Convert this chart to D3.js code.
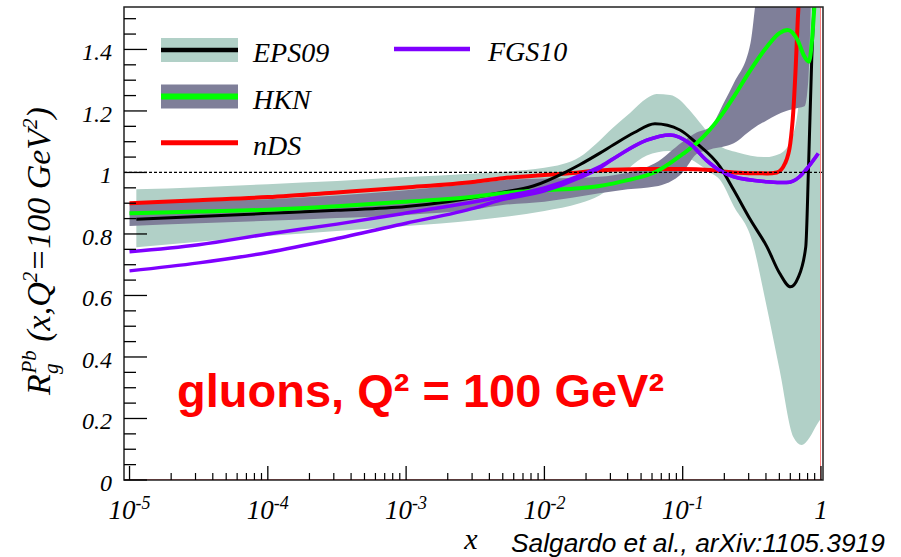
<!DOCTYPE html>
<html>
<head>
<meta charset="utf-8">
<script src="https://cdn.jsdelivr.net/npm/d3@7/dist/d3.min.js"></script>
<style>
  body { margin: 0; background: #fff; }
  svg { display: block; }
  .serif { font-family: "Liberation Serif", "Times New Roman", serif; font-style: italic; }
</style>
</head>
<body>
<svg id="chart" width="901" height="557"></svg>
<script>
// ---- data: [x, R_g^Pb] ----
const eps09 = [[1.12e-5,0.848],[3.16e-5,0.857],[1e-4,0.867],[3.16e-4,0.877],[1e-3,0.889],[2e-3,0.905],
  [4.8e-3,0.934],[8.3e-3,0.956],[0.0145,1.003],[0.018,1.025],[0.025,1.062],[0.0316,1.09],[0.0447,1.13],
  [0.063,1.158],[0.0955,1.138],[0.126,1.095],[0.186,1.019],[0.234,0.943],[0.309,0.846],[0.407,0.758],
  [0.501,0.673],[0.603,0.628],[0.682,0.657],[0.776,0.758],[0.813,1.02],[0.857,1.366],[0.90,1.6]];
const eps09Up = [[1.12e-5,0.945],[3.16e-5,0.952],[1e-4,0.962],[3.16e-4,0.972],[1e-3,0.985],[3.16e-3,0.997],
  [0.01,1.015],[0.018,1.05],[0.0239,1.095],[0.0313,1.145],[0.0416,1.193],[0.055,1.241],[0.0646,1.255],
  [0.081,1.252],[0.0955,1.236],[0.112,1.203],[0.14,1.15],[0.18,1.09],[0.25,1.065],[0.4,1.05],[0.5,1.06],
  [0.6,1.1],[0.68,1.2],[0.76,1.45],[0.83,1.6],[1.0,1.6]];
const eps09Lo = [[1.12e-5,0.757],[3.16e-5,0.775],[1e-4,0.793],[3.16e-4,0.81],[1e-3,0.826],[3.16e-3,0.845],
  [0.01,0.875],[0.018,0.9],[0.025,0.925],[0.0316,0.96],[0.04,1.01],[0.055,1.055],[0.079,1.07],[0.112,1.045],
  [0.158,1.0],[0.186,0.976],[0.234,0.89],[0.316,0.78],[0.398,0.58],[0.501,0.36],[0.631,0.14],[0.724,0.114],
  [0.832,0.14],[0.933,0.18],[1.0,0.2]];

const hkn = [[1e-5,0.867],[3.16e-5,0.873],[1e-4,0.879],[3.16e-4,0.89],[1e-3,0.905],[3.16e-3,0.922],
  [4.8e-3,0.932],[0.01,0.942],[0.018,0.949],[0.025,0.956],[0.04,0.975],[0.0646,1.003],[0.1,1.06],
  [0.126,1.095],[0.186,1.18],[0.234,1.246],[0.309,1.333],[0.407,1.409],[0.501,1.453],[0.575,1.463],
  [0.676,1.431],[0.759,1.377],[0.818,1.36],[0.861,1.43],[0.912,1.6]];
const hknUp = [[1e-5,0.9],[3.16e-5,0.907],[1e-4,0.913],[3.16e-4,0.925],[1e-3,0.942],[3.16e-3,0.965],
  [5e-3,0.975],[0.01,0.98],[0.025,0.986],[0.04,1.0],[0.063,1.03],[0.1,1.1],[0.126,1.13],[0.158,1.148],
  [0.2,1.23],[0.234,1.29],[0.309,1.42],[0.355,1.6],[0.85,1.6]];
const hknLo = [[1e-5,0.826],[3.16e-5,0.835],[1e-4,0.843],[3.16e-4,0.852],[1e-3,0.862],[3.16e-3,0.88],
  [5e-3,0.894],[0.01,0.905],[0.025,0.932],[0.04,0.945],[0.063,0.954],[0.1,1.0],[0.126,1.06],[0.158,1.075],
  [0.234,1.095],[0.316,1.14],[0.407,1.17],[0.56,1.2],[0.69,1.21],[0.76,1.215],[0.81,1.3],[0.85,1.6]];

const nds = [[1e-5,0.9],[3.16e-5,0.91],[1e-4,0.92],[3.16e-4,0.935],[1e-3,0.951],[3.16e-3,0.97],
  [5e-3,0.981],[0.01,0.992],[0.0145,0.997],[0.025,1.006],[0.05,1.011],[0.1,1.011],[0.158,1.008],
  [0.234,1.0],[0.407,0.997],[0.48,1.0],[0.55,1.03],[0.6,1.095],[0.631,1.2],[0.656,1.34],[0.68,1.5],[0.70,1.6]];

const fgs10a = [[1e-5,0.742],[3.16e-5,0.765],[1e-4,0.80],[3.16e-4,0.832],[1e-3,0.868],[4.8e-3,0.92],
  [0.01,0.95],[0.018,0.99],[0.025,1.018],[0.0316,1.045],[0.055,1.105],[0.081,1.122],[0.112,1.095],
  [0.148,1.04],[0.186,1.006],[0.234,0.986],[0.407,0.970],[0.562,0.967],[0.7,0.986],[0.776,1.008],[0.955,1.062]];
const fgs10b = [[1e-5,0.68],[3.16e-5,0.706],[1e-4,0.74],[3.16e-4,0.785],[1e-3,0.835],[3.16e-3,0.885],
  [4.8e-3,0.91],[0.01,0.94],[0.018,0.983],[0.025,1.014],[0.0316,1.045]];

const yTicks = [0, 0.2, 0.4, 0.6, 0.8, 1, 1.2, 1.4];
const yTickLabels = ["0", "0.2", "0.4", "0.6", "0.8", "1", "1.2", "1.4"];
const xDecades = [1e-5, 1e-4, 1e-3, 1e-2, 1e-1, 1];
const xExponents = ["-5", "-4", "-3", "-2", "-1", ""];

const legendBands = [
  { name: "EPS09", band: "#b1d0c7", line: "#000000", lw: 4.5 },
  { name: "HKN", band: "#7f7f99", line: "#00ff00", lw: 6 },
  { name: "nDS", band: null, line: "#ff0000", lw: 5 }
];

// ---- layout ----
const svg = d3.select("#chart");
const L = 124, R = 822, T = 7, B = 480;

const x = d3.scaleLog().domain([9.12e-6, 1.017]).range([L, R]);
const y = d3.scaleLinear().domain([0, 1.538]).range([B, T]);

svg.append("defs").append("clipPath").attr("id", "plotclip")
  .append("rect").attr("x", L).attr("y", T).attr("width", R - L).attr("height", B - T);

const plot = svg.append("g").attr("clip-path", "url(#plotclip)");

const line = d3.line().x(d => x(d[0])).y(d => y(d[1])).curve(d3.curveMonotoneX);

function bandPath(up, lo) {
  const a = line(up);
  const b = line(lo.slice().reverse());
  return a + "L" + b.slice(1) + "Z";
}

// bands
plot.append("path").attr("d", bandPath(eps09Up, eps09Lo)).attr("fill", "#b1d0c7");
plot.append("path").attr("d", bandPath(hknUp, hknLo)).attr("fill", "#7f7f99");

// central curves
const fgsB = fgs10b.concat(fgs10a.filter(d => d[0] > 0.0316));
plot.append("path").attr("d", line(nds)).attr("fill", "none").attr("stroke", "#ff0000").attr("stroke-width", 4);
plot.append("path").attr("d", line(eps09)).attr("fill", "none").attr("stroke", "#000").attr("stroke-width", 3);
plot.append("path").attr("d", line(hkn)).attr("fill", "none").attr("stroke", "#00ff00").attr("stroke-width", 4);
plot.append("path").attr("d", line(fgsB)).attr("fill", "none").attr("stroke", "#7f00ff").attr("stroke-width", 3.5);
plot.append("path").attr("d", line(fgs10a)).attr("fill", "none").attr("stroke", "#7f00ff").attr("stroke-width", 3.5);

// unity line
svg.append("line").attr("x1", L).attr("x2", R).attr("y1", y(1)).attr("y2", y(1))
  .attr("stroke", "#000").attr("stroke-width", 1.2).attr("stroke-dasharray", "3,2");

// frame
svg.append("line").attr("x1", L).attr("x2", R).attr("y1", B - 0.5).attr("y2", B - 0.5).attr("stroke", "#ff8080").attr("stroke-width", 1);
svg.append("line").attr("x1", R - 1.5).attr("x2", R - 1.5).attr("y1", T).attr("y2", B).attr("stroke", "#ff8080").attr("stroke-width", 1);
svg.append("rect").attr("x", L).attr("y", T).attr("width", R - L + 1).attr("height", B - T)
  .attr("fill", "none").attr("stroke", "#222").attr("stroke-width", 1.5);

// y ticks
const yMinor = d3.range(0, 1.5401, 0.05);
svg.append("g").selectAll("line").data(yMinor).join("line")
  .attr("x1", L).attr("x2", d => L + (Math.abs(d / 0.2 - Math.round(d / 0.2)) < 1e-6 ? 23 : 12))
  .attr("y1", d => y(d)).attr("y2", d => y(d))
  .attr("stroke", "#000").attr("stroke-width", 1.3);

svg.append("g").selectAll("text").data(yTicks).join("text")
  .attr("class", "serif")
  .attr("x", 112).attr("y", d => y(d) + 11)
  .attr("text-anchor", "end").attr("font-size", 24)
  .text((d, i) => yTickLabels[i]);

// x ticks
const xMinor = [];
xDecades.slice(0, -1).forEach(dec => { for (let k = 2; k <= 9; k++) xMinor.push(dec * k); });
svg.append("g").selectAll("line").data(xMinor).join("line")
  .attr("x1", d => x(d)).attr("x2", d => x(d)).attr("y1", B).attr("y2", B - 7)
  .attr("stroke", "#000").attr("stroke-width", 1.2);
svg.append("g").selectAll("line").data(xDecades).join("line")
  .attr("x1", d => x(d)).attr("x2", d => x(d)).attr("y1", B).attr("y2", B - 14)
  .attr("stroke", "#000").attr("stroke-width", 1.3);

const xl = svg.append("g").selectAll("text").data(xDecades).join("text")
  .attr("class", "serif")
  .attr("x", d => x(d)).attr("y", 519)
  .attr("text-anchor", "middle").attr("font-size", 27);
xl.append("tspan").text((d, i) => xExponents[i] === "" ? "1" : "10");
xl.append("tspan").attr("dy", -10).attr("font-size", 18).text((d, i) => xExponents[i]);

// axis titles
svg.append("text").attr("class", "serif").attr("x", 471).attr("y", 549)
  .attr("text-anchor", "middle").attr("font-size", 30).text("x");

const yt = svg.append("text").attr("class", "serif")
  .attr("transform", "translate(50,251) rotate(-90)")
  .attr("text-anchor", "middle").attr("font-size", 34);
yt.append("tspan").text("R");
yt.append("tspan").attr("dy", 8).attr("font-size", 21).text("g");
yt.append("tspan").attr("dx", -10).attr("dy", -22).attr("font-size", 21).text("Pb");
yt.append("tspan").attr("dy", 14).text(" (x,Q");
yt.append("tspan").attr("dy", -13).attr("font-size", 21).text("2");
yt.append("tspan").attr("dy", 13).text("=100 GeV");
yt.append("tspan").attr("dy", -13).attr("font-size", 21).text("2");
yt.append("tspan").attr("dy", 13).text(")");

// legend
const lg = svg.append("g");
legendBands.forEach((d, i) => {
  const cy = [50, 96.5, 142.7][i];
  if (d.band) lg.append("rect").attr("x", 161).attr("y", cy - 12).attr("width", 77).attr("height", 24).attr("fill", d.band);
  lg.append("line").attr("x1", 161).attr("x2", 238).attr("y1", cy).attr("y2", cy)
    .attr("stroke", d.line).attr("stroke-width", d.lw);
  lg.append("text").attr("class", "serif").attr("x", 253).attr("y", cy + 12)
    .attr("font-size", 28).text(d.name);
});
lg.append("line").attr("x1", 394).attr("x2", 470).attr("y1", 49).attr("y2", 49)
  .attr("stroke", "#7f00ff").attr("stroke-width", 4.5);
lg.append("text").attr("class", "serif").attr("x", 488).attr("y", 61).attr("font-size", 28).text("FGS10");

// annotations
svg.append("text").attr("x", 177).attr("y", 407)
  .attr("font-family", "'Liberation Sans', Arial, sans-serif").attr("font-weight", "bold")
  .attr("font-size", 47).attr("fill", "#ff0000").text("gluons, Q² = 100 GeV²");

svg.append("text").attr("x", 511).attr("y", 552)
  .attr("font-family", "'Liberation Sans', Arial, sans-serif").attr("font-style", "italic")
  .attr("font-size", 26.3).attr("fill", "#000").text("Salgardo et al., arXiv:1105.3919");
</script>
</body>
</html>
